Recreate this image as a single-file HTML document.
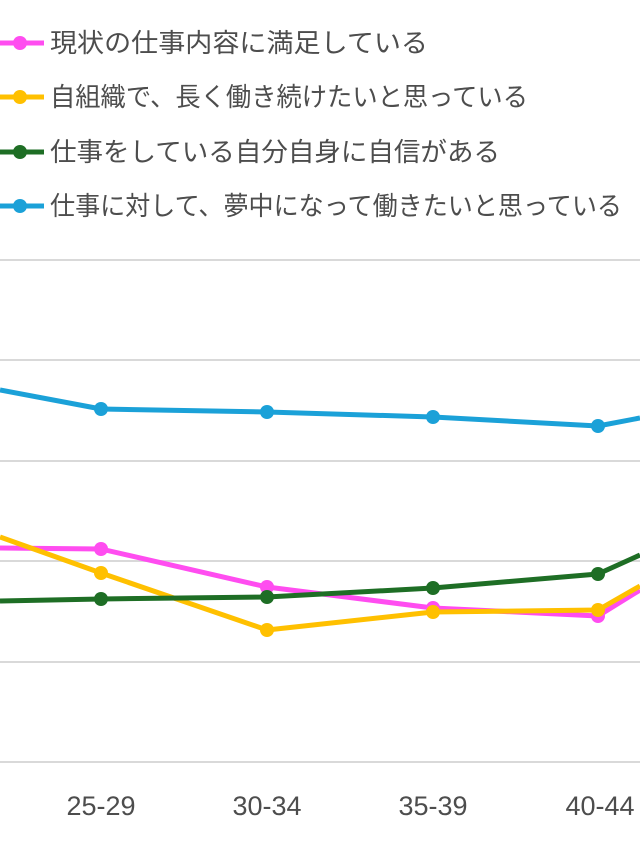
<!DOCTYPE html><html><head><meta charset="utf-8"><style>body{margin:0;background:#fff;width:640px;height:853px;overflow:hidden}</style></head><body>
<svg width="640" height="853" xmlns="http://www.w3.org/2000/svg" font-family="Liberation Sans, Noto Sans CJK JP, sans-serif">
<g stroke="#d9d9d9" stroke-width="2">
<line x1="0" y1="260" x2="640" y2="260"/><line x1="0" y1="360" x2="640" y2="360"/><line x1="0" y1="461" x2="640" y2="461"/><line x1="0" y1="561" x2="640" y2="561"/><line x1="0" y1="662" x2="640" y2="662"/><line x1="0" y1="762" x2="640" y2="762"/>
</g>
<g font-size="27" fill="#4d4d4d" text-anchor="middle"><text x="101" y="815">25-29</text><text x="267" y="815">30-34</text><text x="433" y="815">35-39</text><text x="600" y="815">40-44</text></g>
<g fill="none" stroke-width="5" stroke-linejoin="round">
<polyline stroke="#1ba1d8" points="0,390 101,409 267,412 433,417 598,426 640,418"/>
<polyline stroke="#ff4df0" points="0,548 101,549 267,587 433,608 598,616 640,590"/>
<polyline stroke="#ffc000" points="0,537 101,573 267,630 433,612 598,610 640,586"/>
<polyline stroke="#1e6e25" points="0,601 101,599 267,597 433,588 598,574 640,555"/>
</g>
<g fill="#1ba1d8"><circle cx="101" cy="409" r="7"/><circle cx="267" cy="412" r="7"/><circle cx="433" cy="417" r="7"/><circle cx="598" cy="426" r="7"/></g>
<g fill="#ff4df0"><circle cx="101" cy="549" r="7"/><circle cx="267" cy="587" r="7"/><circle cx="433" cy="608" r="7"/><circle cx="598" cy="616" r="7"/></g>
<g fill="#ffc000"><circle cx="101" cy="573" r="7"/><circle cx="267" cy="630" r="7"/><circle cx="433" cy="612" r="7"/><circle cx="598" cy="610" r="7"/></g>
<g fill="#1e6e25"><circle cx="101" cy="599" r="7"/><circle cx="267" cy="597" r="7"/><circle cx="433" cy="588" r="7"/><circle cx="598" cy="574" r="7"/></g>
<g stroke-width="5">
<line x1="0" y1="43" x2="44" y2="43" stroke="#ff4df0"/><circle cx="20" cy="43" r="7" fill="#ff4df0"/>
<line x1="0" y1="97" x2="44" y2="97" stroke="#ffc000"/><circle cx="20" cy="97" r="7" fill="#ffc000"/>
<line x1="0" y1="152" x2="44" y2="152" stroke="#1e6e25"/><circle cx="20" cy="152" r="7" fill="#1e6e25"/>
<line x1="0" y1="206" x2="44" y2="206" stroke="#1ba1d8"/><circle cx="20" cy="206" r="7" fill="#1ba1d8"/>
</g>
<g font-size="26" fill="#4d4d4d" lengthAdjust="spacingAndGlyphs">
<text x="50" y="52" textLength="378" lengthAdjust="spacingAndGlyphs">現状の仕事内容に満足している</text>
<text x="50" y="106" textLength="478" lengthAdjust="spacingAndGlyphs">自組織で、長く働き続けたいと思っている</text>
<text x="50" y="161" textLength="450" lengthAdjust="spacingAndGlyphs">仕事をしている自分自身に自信がある</text>
<text x="50" y="215" textLength="572" lengthAdjust="spacingAndGlyphs">仕事に対して、夢中になって働きたいと思っている</text>
</g>
</svg></body></html>
